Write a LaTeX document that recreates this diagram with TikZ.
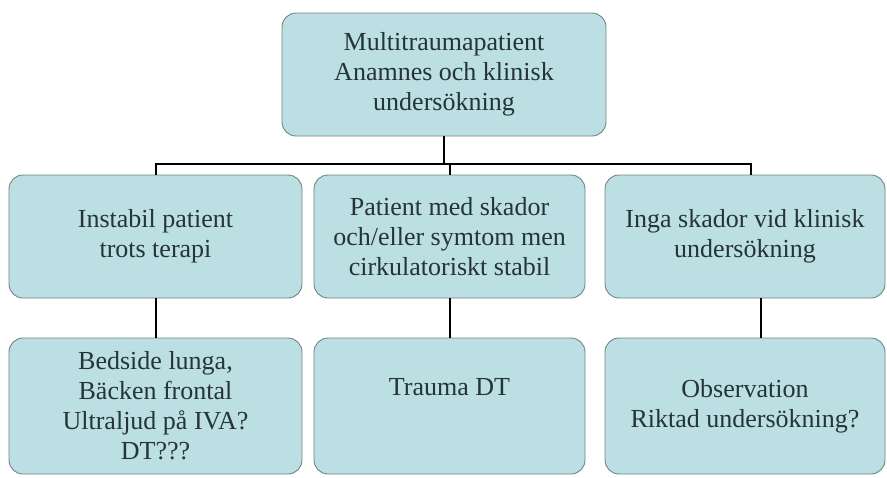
\documentclass[tikz,border=0pt]{standalone}
\usepackage{fontspec}
\setmainfont{Liberation Serif}
\definecolor{boxfill}{RGB}{187,223,227}
\definecolor{boxline}{RGB}{112,132,134}
\definecolor{boxtext}{RGB}{38,52,54}

\begin{document}
\begin{tikzpicture}[x=1pt,y=-1pt,
    box/.style={draw=boxline,line width=0.9pt,fill=boxfill,rounded corners=14pt,
      text=boxtext,align=center,inner sep=0pt,font=\fontsize{26}{30}\selectfont},
    link/.style={line width=2pt,black}]
    \useasboundingbox (0,0) rectangle (887,477);
    \node[box,minimum width=324pt,minimum height=123pt] (top) at (444,74.5) {Multitraumapatient\\Anamnes och klinisk\\undersökning};
    \node[box,minimum width=293pt,minimum height=123pt] (lft) at (155.5,236.5) {Instabil patient\\trots terapi};
    \node[box,minimum width=271pt,minimum height=123pt] (mid) at (449.5,236.5) {Patient med skador\\och/eller symtom men\\cirkulatoriskt stabil};
    \node[box,minimum width=280pt,minimum height=123pt] (rgt) at (745,236.5) {Inga skador vid klinisk\\undersökning};
    \node[box,minimum width=293pt,minimum height=136pt] (lftb) at (155.5,406) {Bedside lunga,\\Bäcken frontal\\Ultraljud på IVA?\\DT???};
    \node[box,minimum width=271pt,minimum height=136pt] (midb) at (449.5,406) {Trauma DT\\\strut};
    \node[box,minimum width=280pt,minimum height=136pt] (rgtb) at (745,406) {Observation\\Riktad undersökning?};
    \draw[link] (top.south) -- ([yshift=11pt]top.south |- mid.north);
    \draw[link] (lft.north) -- ++(0,-11) -| ([xshift=6pt]rgt.north);
    \draw[link] (mid.north) -- ++(0,-11);
    \draw[link] (lft.south) -- (lftb.north);
    \draw[link] (mid.south) -- (midb.north);
    \draw[link] ([xshift=16pt]rgt.south) -- ([xshift=16pt]rgtb.north);
\end{tikzpicture}
\end{document}
